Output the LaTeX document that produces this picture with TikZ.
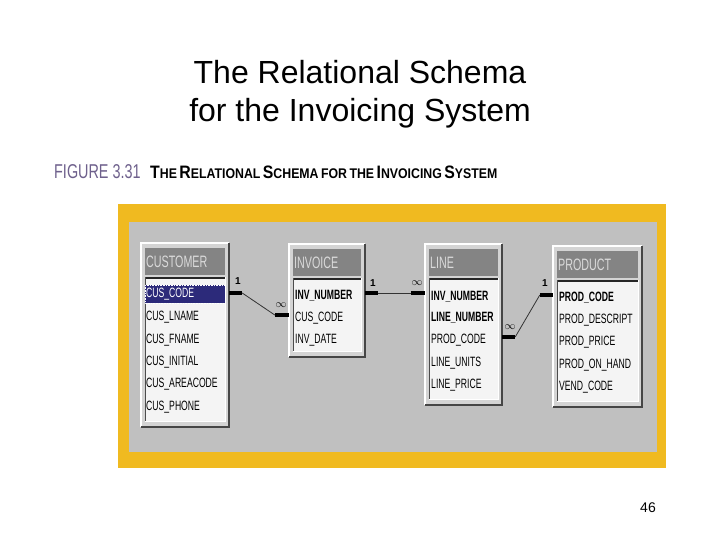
\documentclass[tikz,border=0pt]{standalone}
\usepackage{fontspec}
\setmainfont{Liberation Sans}
\newfontfamily\fieldfont[FakeStretch=0.64]{Liberation Sans}
\newfontfamily\headfont[FakeStretch=0.65]{Liberation Sans}
\newfontfamily\capfont[FakeStretch=0.88]{Liberation Sans}
\newfontfamily\figfont[FakeStretch=0.72]{Liberation Sans}
\usetikzlibrary{fit,calc}
\definecolor{frameyellow}{RGB}{240,186,32}
\definecolor{innergrey}{RGB}{192,192,192}
\definecolor{headgrey}{RGB}{132,132,132}
\definecolor{headtxt}{RGB}{218,218,218}
\definecolor{panelwhite}{RGB}{244,244,244}
\definecolor{tabface}{RGB}{212,212,212}
\definecolor{tabshadow}{RGB}{70,70,70}
\definecolor{selnavy}{RGB}{44,42,122}
\definecolor{figpurple}{RGB}{110,96,140}
\tikzset{
  field/.style={anchor=west, inner sep=0pt, font=\fieldfont\fontsize{13.5}{14}\selectfont, text=black},
  keyfield/.style={field, font=\fieldfont\bfseries\fontsize{13.5}{14}\selectfont},
  headtext/.style={anchor=west, inner sep=0pt, font=\headfont\fontsize{16.5}{17}\selectfont, text=headtxt},
  stub/.style={line width=3.5pt, black},
  rel/.style={line width=0.8pt, black!80},
  card/.style={inner sep=0pt, font=\bfseries\fontsize{10}{10}\selectfont},
  infcard/.style={inner sep=0pt, font=\fontsize{11}{11}\selectfont},
}
\newcommand\dbtable[6]{%
  \fill[tabface] (#2,#3) rectangle (#4,#5);
  \draw[white, line width=1.5pt] (#2,#5) -- (#2,#3) -- (#4,#3);
  \draw[tabshadow, line width=2pt] (#2,#5) -- (#4,#5) -- (#4,#3);
  \fill[headgrey] (#2+4,#3+5) rectangle (#4-4,#3+32);
  \node[headtext] (#1-title) at (#2+5,#3+19) {#6};
  \fill[panelwhite] (#2+4,#3+34) rectangle (#4-4,#5-6);
  \draw[black!85, line width=2.5pt] (#2+4,#3+35) -- (#4-4,#3+35);
  \draw[black!70, line width=1pt] (#2+4,#5-6) -- (#2+4,#3+34);
  \draw[white, line width=1pt] (#2+4,#5-6) -- (#4-4,#5-6) -- (#4-4,#3+34);
  \coordinate (#1-nw) at (#2,#3);
  \coordinate (#1-se) at (#4,#5);
  \node[fit=(#1-nw)(#1-se), inner sep=0pt] (#1) {};
}
\newcommand\bigsc[1]{{\fontsize{18}{18}\selectfont #1}}
\newcommand\smsc[1]{{\fontsize{14}{14}\selectfont #1}}
\begin{document}
\begin{tikzpicture}[x=1pt,y=-1pt]
\useasboundingbox (0,0) rectangle (720,540);
\fill[white] (0,0) rectangle (720,540);
% title
\node[font=\fontsize{32}{38}\selectfont, align=center] (title) at (360,94) {The Relational Schema\\for the Invoicing System};
% figure caption
\node[anchor=west, inner sep=0pt, font=\figfont\fontsize{20}{20}\selectfont, text=figpurple] (fig) at (54,172) {FIGURE 3.31};
\node[anchor=west, inner sep=0pt, font=\capfont\bfseries] (cap) at (150,172) {\bigsc{T}\smsc{HE} \bigsc{R}\smsc{ELATIONAL} \bigsc{S}\smsc{CHEMA} \smsc{FOR} \smsc{THE} \bigsc{I}\smsc{NVOICING} \bigsc{S}\smsc{YSTEM}};
% frame
\fill[frameyellow] (118,204) rectangle (666,468);
\fill[innergrey] (129,222) rectangle (657,452);
% tables
\dbtable{cust}{141}{243}{229}{427}{CUSTOMER}
\dbtable{inv}{289}{244}{365}{357}{INVOICE}
\dbtable{line}{425}{244}{502}{405}{LINE}
\dbtable{prod}{553}{246}{642}{407}{PRODUCT}
% customer fields
\fill[selnavy] (145,285) rectangle (225,303);
\draw[white, densely dotted, line width=0.6pt] (145,285) rectangle (225,303);
\node[field, text=white] (cuscode) at (146,294) {CUS\_CODE};
\node[field] (cuslname) at (146,317) {CUS\_LNAME};
\node[field] (cusfname) at (146,340) {CUS\_FNAME};
\node[field] (cusinit) at (146,362) {CUS\_INITIAL};
\node[field] (cusarea) at (146,384) {CUS\_AREACODE};
\node[field] (cusphone) at (146,407) {CUS\_PHONE};
% invoice fields
\node[keyfield] (invnum) at (295,296) {INV\_NUMBER};
\node[field] (invcus) at (295,318) {CUS\_CODE};
\node[field] (invdate) at (295,340) {INV\_DATE};
% line fields
\node[keyfield] (lineinv) at (431,297) {INV\_NUMBER};
\node[keyfield] (linenum) at (431,318) {LINE\_NUMBER};
\node[field] (lineprod) at (431,340) {PROD\_CODE};
\node[field] (lineunits) at (431,363) {LINE\_UNITS};
\node[field] (lineprice) at (431,385) {LINE\_PRICE};
% product fields
\node[keyfield] (prodcode) at (559,298) {PROD\_CODE};
\node[field] (proddesc) at (559,320) {PROD\_DESCRIPT};
\node[field] (prodprice) at (559,342) {PROD\_PRICE};
\node[field] (prodhand) at (559,365) {PROD\_ON\_HAND};
\node[field] (prodvend) at (559,387) {VEND\_CODE};
% relationship CUSTOMER - INVOICE
\coordinate (a1) at ($(cust.east |- cuscode)+(0,-1)$);
\coordinate (a2) at ($(a1)+(13,0)$);
\coordinate (b1) at ($(inv.west |- invcus)+(0,-3)$);
\coordinate (b2) at ($(b1)+(-14,0)$);
\draw[stub] (a1) -- (a2);
\draw[rel] (a2) -- (b2);
\draw[stub] (b2) -- (b1);
\node[card] (c1) at (238,281) {1};
\node[infcard] (c2) at (281,305) {$\infty$};
% relationship INVOICE - LINE
\coordinate (d1) at ($(inv.east |- invnum)+(0,-3)$);
\coordinate (d2) at ($(d1)+(13,0)$);
\coordinate (e1) at (line.west |- d1);
\coordinate (e2) at ($(e1)+(-14,0)$);
\draw[stub] (d1) -- (d2);
\draw[rel] (d2) -- (e2);
\draw[stub] (e2) -- (e1);
\node[card] (c3) at (373,283) {1};
\node[infcard] (c4) at (417,283) {$\infty$};
% relationship LINE - PRODUCT
\coordinate (f1) at ($(line.east |- lineprod)+(0,-3)$);
\coordinate (f2) at ($(f1)+(13,0)$);
\coordinate (g1) at ($(prod.west |- prodcode)+(0,-3)$);
\coordinate (g2) at ($(g1)+(-13,0)$);
\draw[stub] (f1) -- (f2);
\draw[rel] (f2) -- (g2);
\draw[stub] (g2) -- (g1);
\node[infcard] (c5) at (510,327) {$\infty$};
\node[card] (c6) at (545,283) {1};
% page number
\node[font=\fontsize{14}{14}\selectfont] (pg) at (648,508) {46};
\end{tikzpicture}
\end{document}
